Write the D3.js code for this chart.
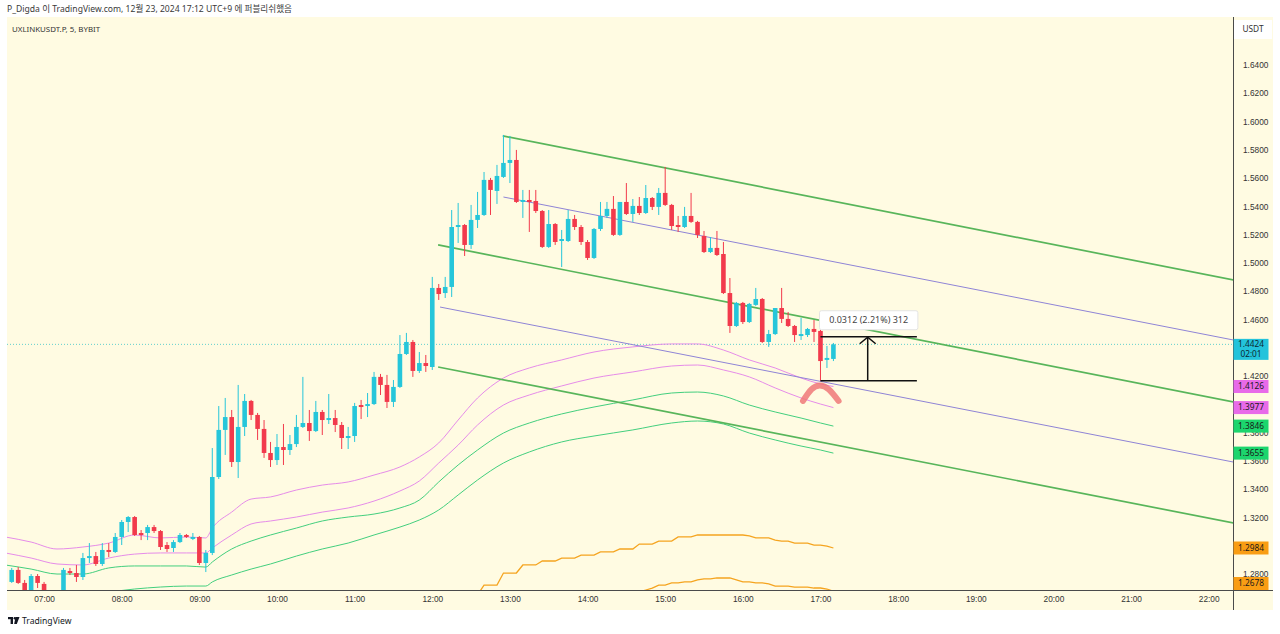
<!DOCTYPE html>
<html><head><meta charset="utf-8">
<script src="https://cdn.jsdelivr.net/npm/d3@7"></script>
<style>
html,body{margin:0;padding:0;background:#fff;}
svg{display:block;font-family:"Noto Sans","Noto Sans CJK KR",sans-serif;}
</style></head><body>
<svg id="chart" width="1280" height="634"></svg>
<script>
// ---------------- DATA ----------------
const headerText = "P_Digda 이 TradingView.com, 12월 23, 2024 17:12 UTC+9 에 퍼블리쉬했음";
const symbolText = "UXLINKUSDT.P, 5, BYBIT";
const currencyText = "USDT";
const firstBarTime = "06:35";
const barMinutes = 5;

const openP = [1.2744,1.2829,1.2737,1.2673,1.2786,1.2730,1.2666,1.2637,1.2652,1.2821,
1.2807,1.2779,1.2913,1.2927,1.2871,1.2970,1.2956,1.3062,1.3168,1.3203,
1.3090,1.3090,1.3132,1.3104,1.3005,1.2984,1.3026,1.3076,1.3048,1.3062,
1.2878,1.2949,1.3486,1.3819,1.3910,1.3592,1.3840,1.4024,1.3925,1.3826,
1.3656,1.3606,1.3698,1.3677,1.3719,1.3840,1.3868,1.3811,1.3946,1.3889,
1.3903,1.3854,1.3762,1.3776,1.3995,1.3988,1.4002,1.4194,1.4137,1.4017,
1.4123,1.4356,1.4441,1.4236,1.4292,1.4264,1.4823,1.4787,1.4830,1.5254,
1.5268,1.5127,1.5304,1.5339,1.5587,1.5509,1.5608,1.5707,1.5728,1.5431,
1.5445,1.5438,1.5367,1.5113,1.5275,1.5155,1.5155,1.5311,1.5254,1.5148,
1.5035,1.5240,1.5332,1.5382,1.5198,1.5431,1.5346,1.5403,1.5353,1.5459,
1.5396,1.5495,1.5410,1.5268,1.5254,1.5332,1.5290,1.5191,1.5077,1.5106,
1.5063,1.4787,1.4554,1.4717,1.4582,1.4703,1.4745,1.4441,1.4497,1.4681,
1.4604,1.4554,1.4483,1.4490,1.4533,1.4519,1.4314,1.4321];
const highP = [1.2843,1.2850,1.2758,1.2800,1.2800,1.2744,1.2673,1.2666,1.2843,1.2843,
1.2864,1.2949,1.3019,1.2956,1.3019,1.3019,1.3090,1.3182,1.3210,1.3210,
1.3111,1.3147,1.3147,1.3111,1.3026,1.3040,1.3090,1.3083,1.3090,1.3069,
1.2970,1.3691,1.3988,1.4045,1.3960,1.4137,1.4073,1.4031,1.3939,1.3889,
1.3734,1.3790,1.3861,1.3783,1.3925,1.4194,1.3960,1.4024,1.3960,1.4073,
1.3960,1.3875,1.3840,1.4010,1.4031,1.4080,1.4229,1.4215,1.4208,1.4172,
1.4490,1.4505,1.4455,1.4370,1.4349,1.4901,1.4851,1.4901,1.5374,1.5424,
1.5275,1.5410,1.5502,1.5643,1.5601,1.5693,1.5905,1.5898,1.5799,1.5516,
1.5516,1.5516,1.5374,1.5374,1.5282,1.5233,1.5374,1.5339,1.5268,1.5162,
1.5247,1.5431,1.5431,1.5473,1.5431,1.5565,1.5452,1.5466,1.5551,1.5466,
1.5530,1.5679,1.5417,1.5332,1.5396,1.5495,1.5297,1.5226,1.5183,1.5226,
1.5148,1.4893,1.4724,1.4724,1.4717,1.4823,1.4752,1.4526,1.4681,1.4823,
1.4653,1.4561,1.4611,1.4540,1.4596,1.4526,1.4413,1.4434];
const lowP = [1.2737,1.2730,1.2652,1.2652,1.2701,1.2652,1.2616,1.2616,1.2637,1.2793,
1.2744,1.2758,1.2878,1.2857,1.2857,1.2920,1.2949,1.3005,1.3097,1.3069,
1.3040,1.3040,1.3090,1.2970,1.2956,1.2956,1.3019,1.3055,1.3040,1.2864,
1.2814,1.2934,1.3472,1.3642,1.3557,1.3479,1.3776,1.3889,1.3748,1.3621,
1.3557,1.3571,1.3571,1.3642,1.3698,1.3833,1.3741,1.3804,1.3783,1.3861,
1.3804,1.3684,1.3684,1.3734,1.3896,1.3910,1.3995,1.4066,1.3974,1.3981,
1.4116,1.4349,1.4194,1.4222,1.4229,1.4243,1.4738,1.4752,1.4759,1.5141,
1.5049,1.5099,1.5247,1.5332,1.5339,1.5417,1.5601,1.5565,1.5424,1.5318,
1.5219,1.5353,1.5106,1.5106,1.5127,1.4971,1.5148,1.5233,1.5127,1.5021,
1.5028,1.5226,1.5318,1.5191,1.5191,1.5339,1.5290,1.5339,1.5346,1.5374,
1.5339,1.5403,1.5233,1.5219,1.5247,1.5283,1.5176,1.5070,1.5070,1.5049,
1.4780,1.4505,1.4547,1.4568,1.4575,1.4696,1.4434,1.4406,1.4490,1.4575,
1.4547,1.4441,1.4455,1.4476,1.4441,1.4166,1.4257,1.4306];
const closeP = [1.2829,1.2737,1.2673,1.2786,1.2737,1.2666,1.2630,1.2652,1.2829,1.2807,
1.2779,1.2913,1.2927,1.2871,1.2970,1.2956,1.3062,1.3168,1.3203,1.3076,
1.3076,1.3132,1.3104,1.2991,1.2977,1.3026,1.3076,1.3062,1.3062,1.2878,
1.2949,1.3486,1.3819,1.3910,1.3592,1.3840,1.4024,1.3925,1.3826,1.3656,
1.3606,1.3698,1.3677,1.3719,1.3840,1.3868,1.3811,1.3946,1.3889,1.3903,
1.3854,1.3762,1.3776,1.3988,1.3981,1.4002,1.4194,1.4137,1.4017,1.4123,
1.4356,1.4441,1.4236,1.4292,1.4271,1.4823,1.4780,1.4830,1.5254,1.5268,
1.5127,1.5304,1.5339,1.5587,1.5516,1.5615,1.5707,1.5728,1.5431,1.5445,
1.5431,1.5367,1.5113,1.5275,1.5148,1.5169,1.5311,1.5254,1.5148,1.5035,
1.5240,1.5332,1.5382,1.5198,1.5431,1.5346,1.5403,1.5353,1.5459,1.5396,
1.5495,1.5410,1.5261,1.5254,1.5332,1.5290,1.5198,1.5077,1.5106,1.5056,
1.4787,1.4554,1.4717,1.4582,1.4710,1.4745,1.4441,1.4497,1.4681,1.4604,
1.4554,1.4490,1.4497,1.4533,1.4512,1.4306,1.4328,1.4424];

const priceTicks = [1.28,1.30,1.32,1.34,1.36,1.38,1.40,1.42,1.44,1.46,1.48,1.50,1.52,1.54,1.56,1.58,1.60,1.62,1.64];
const timeTicks = ["07:00","08:00","09:00","10:00","11:00","12:00","13:00","14:00","15:00","16:00","17:00","18:00","19:00","20:00","21:00","22:00"];
const lastPrice = 1.4424;
const barCountdown = "02:01";

// indicator bands (bar index, price)
const bandBars = [-1,3,7,11,15,19,23,27,30,31,34,37,40,44,48,52,56,60,63,66,69,72,76,80,85,90,96,102,106,110,114,118,122,125,127];
const pinkUpper = [1.3062,1.3026,1.2977,1.2991,1.3019,1.3076,1.3055,1.3062,1.3055,1.3125,1.3238,1.3330,1.3345,1.3394,1.3429,1.3451,1.3500,1.3557,1.3628,1.3727,1.3889,1.4045,1.4186,1.4257,1.4314,1.4370,1.4406,1.4427,1.4427,1.4384,1.4314,1.4257,1.4186,1.4144,1.4126];
const pinkLower = [1.2949,1.2913,1.2871,1.2864,1.2913,1.2941,1.2949,1.2949,1.2949,1.2984,1.3076,1.3154,1.3175,1.3203,1.3238,1.3267,1.3316,1.3387,1.3458,1.3585,1.3712,1.3854,1.3995,1.4066,1.4130,1.4186,1.4229,1.4271,1.4278,1.4243,1.4194,1.4116,1.4045,1.4002,1.3977];
const greenUpper = [1.2864,1.2835,1.2800,1.2800,1.2843,1.2857,1.2857,1.2857,1.2849,1.2885,1.2977,1.3033,1.3076,1.3125,1.3175,1.3203,1.3224,1.3267,1.3323,1.3451,1.3571,1.3677,1.3797,1.3868,1.3932,1.3981,1.4031,1.4080,1.4087,1.4059,1.3995,1.3946,1.3903,1.3868,1.3846];
const greenLower = [1.2616,1.2630,1.2644,1.2659,1.2673,1.2694,1.2708,1.2715,1.2715,1.2744,1.2793,1.2835,1.2871,1.2927,1.2977,1.3019,1.3076,1.3132,1.3182,1.3253,1.3359,1.3465,1.3585,1.3663,1.3734,1.3776,1.3819,1.3868,1.3882,1.3861,1.3797,1.3748,1.3705,1.3677,1.3655];
const orangeUpperStart = 72;
const orangeUpper = [1.2652,1.2722,1.2722,1.2722,1.2807,1.2807,1.2807,1.2864,1.2864,1.2864,1.2892,1.2892,1.2892,1.2913,1.2913,1.2913,1.2934,1.2934,1.2934,1.2956,1.2956,1.2956,1.2977,1.2977,1.2977,1.3012,1.3012,1.3012,1.3033,1.3033,1.3033,1.3062,1.3062,1.3062,1.3076,1.3076,1.3076,1.3076,1.3076,1.3076,1.3076,1.3076,1.3069,1.3055,1.3055,1.3055,1.3040,1.3033,1.3033,1.3019,1.3019,1.3019,1.3005,1.3005,1.2998,1.2984];
const orangeLowerStart = 96;
const orangeLower = [1.2652,1.2673,1.2687,1.2701,1.2722,1.2722,1.2737,1.2737,1.2744,1.2744,1.2758,1.2765,1.2765,1.2772,1.2772,1.2772,1.2758,1.2744,1.2744,1.2737,1.2737,1.2730,1.2715,1.2715,1.2715,1.2708,1.2708,1.2708,1.2701,1.2701,1.2694,1.2678];

// drawn trend channel lines: start bar/price -> end bar/price
const channelKind = ["green","green","green","purple","purple"];
const channelStartBar = [75.9, 65.9, 65.9, 76.0, 66.2];
const channelStartPrice = [1.5898, 1.5127, 1.4264, 1.5466, 1.4688];
const channelEndBar = [188.8, 188.8, 188.8, 188.8, 188.8];
const channelEndPrice = [1.4879, 1.4017, 1.3161, 1.4455, 1.3592];

// price range measurement
const measureFromBar = 125, measureToBar = 139.9, measureArrowBar = 132.3;
const measureLow = 1.4166, measureHigh = 1.4478;
const measureText = "0.0312 (2.21%) 312";

// hand-drawn highlight arc
const arcBars = [122.3, 123.6, 124.9, 126.3, 127.8];
const arcPrices = [1.4024, 1.4105, 1.4133, 1.4105, 1.4024];

// right-axis value tags
const tagPrices = [1.4424, 1.4126, 1.3977, 1.3846, 1.3655, 1.2984, 1.2678];
const tagKind = ["last","pink","pink","green","green","orange","orange"];

// ---------------- DRAW ----------------
const W = 1280, H = 634;
const L = 7, R = 1233, T = 17, B = 590, PR = 1273, PB = 610;
const svg = d3.select("#chart");
const C = {bg:"#fffbe2", up:"#26c6da", down:"#f23a4c", pink:"#e68ce9", gline:"#43cf7e",
  orange:"#f5a41f", chanG:"#58b55a", chanP:"#8f84d6", axis:"#4a4a4a", text:"#333"};
const tagFill = {last:"#23c3db", pink:"#e86ae9", green:"#1cd56d", orange:"#f99d14"};
const AXF = "8.3px";

svg.append("rect").attr("width",W).attr("height",H).attr("fill","#fff");
svg.append("rect").attr("x",L).attr("y",T).attr("width",PR-L).attr("height",PB-T).attr("fill",C.bg);

const viewFirstBar = -0.73, viewLastBar = 188.76;
const x = d3.scaleLinear().domain([viewFirstBar, viewLastBar]).range([L, R]);
const y = d3.scaleLinear().domain([1.2687, 1.6739]).range([B, T]);

const defs = svg.append("defs");
defs.append("clipPath").attr("id","plot").append("rect").attr("x",L).attr("y",T).attr("width",R-L).attr("height",B-T);
const plot = svg.append("g").attr("clip-path","url(#plot)");

const toMin = s => { const [h,m] = s.split(":").map(Number); return h*60+m; };
const barOf = s => (toMin(s) - toMin(firstBarTime)) / barMinutes;

// price line (dotted)
plot.append("line").attr("x1",L).attr("x2",R).attr("y1",y(lastPrice)).attr("y2",y(lastPrice))
  .attr("stroke","#3cc7c9").attr("stroke-width",1).attr("stroke-dasharray","1,2").attr("opacity",0.8);

// indicator lines
const lineGen = d3.line().x(d=>x(d[0])).y(d=>y(d[1]));
const bandPts = arr => bandBars.map((b,i)=>[b, arr[i]]);
[[pinkUpper,C.pink],[pinkLower,C.pink],[greenUpper,C.gline],[greenLower,C.gline]].forEach(([arr,col])=>{
  plot.append("path").attr("d",lineGen.curve(d3.curveMonotoneX)(bandPts(arr)))
    .attr("fill","none").attr("stroke",col).attr("stroke-width",1);
});
lineGen.curve(d3.curveLinear);
[[orangeUpper,orangeUpperStart],[orangeLower,orangeLowerStart]].forEach(([arr,s])=>{
  plot.append("path").attr("d",lineGen(arr.map((p,i)=>[s+i,p])))
    .attr("fill","none").attr("stroke",C.orange).attr("stroke-width",1.3);
});

// channel lines
channelKind.forEach((k,i)=>{
  plot.append("line")
    .attr("x1",x(channelStartBar[i])).attr("y1",y(channelStartPrice[i]))
    .attr("x2",x(channelEndBar[i])).attr("y2",y(channelEndPrice[i]))
    .attr("stroke", k==="green"?C.chanG:C.chanP)
    .attr("stroke-width", k==="green"?1.7:1);
});

// candles
const bw = 4.6;
const cg = plot.append("g");
openP.forEach((o,i)=>{
  const c = closeP[i], up = c >= o, col = up?C.up:C.down;
  const cx = x(i);
  cg.append("line").attr("x1",cx).attr("x2",cx).attr("y1",y(highP[i])).attr("y2",y(lowP[i]))
    .attr("stroke",col).attr("stroke-width",1);
  const yt = y(Math.max(o,c)), yb = y(Math.min(o,c));
  cg.append("rect").attr("x",cx-bw/2).attr("y",yt).attr("width",bw).attr("height",Math.max(1,yb-yt)).attr("fill",col);
});

// highlight arc
plot.append("path").attr("d", d3.line().x(d=>x(d[0])).y(d=>y(d[1])).curve(d3.curveNatural)(arcBars.map((b,i)=>[b,arcPrices[i]])))
  .attr("fill","none").attr("stroke","#f07878").attr("stroke-opacity",0.85).attr("stroke-width",6).attr("stroke-linecap","round");

// measurement tool
const mg = plot.append("g");
[measureLow, measureHigh].forEach(p=>{
  mg.append("line").attr("x1",x(measureFromBar)).attr("x2",x(measureToBar)).attr("y1",y(p)).attr("y2",y(p))
    .attr("stroke","#111").attr("stroke-width",1.5);
});
const ax = x(measureArrowBar);
mg.append("line").attr("x1",ax).attr("x2",ax).attr("y1",y(measureLow)).attr("y2",y(measureHigh)+1)
  .attr("stroke","#111").attr("stroke-width",1.5);
mg.append("path").attr("d",`M${ax-8},${y(measureHigh)+7}L${ax},${y(measureHigh)+0.5}L${ax+8},${y(measureHigh)+7}`)
  .attr("fill","none").attr("stroke","#111").attr("stroke-width",1.5);
const lbx = x(measureFromBar)-1, lbw = x(measureToBar)-x(measureFromBar)+2;
mg.append("rect").attr("x",lbx).attr("y",y(measureHigh)-26).attr("width",lbw).attr("height",19).attr("rx",2)
  .attr("fill","#fff").attr("stroke","#e4e4e4");
mg.append("text").attr("x",lbx+lbw/2).attr("y",y(measureHigh)-16.5).attr("dy","0.35em")
  .attr("text-anchor","middle").attr("font-size","9px").attr("fill","#444").text(measureText);

// axis lines
svg.append("line").attr("x1",R+0.5).attr("x2",R+0.5).attr("y1",T).attr("y2",PB).attr("stroke",C.axis);
svg.append("line").attr("x1",L).attr("x2",PR).attr("y1",B+0.5).attr("y2",B+0.5).attr("stroke",C.axis);

// y axis: labels hidden behind value tags are not drawn
const tagY = tagPrices.map(p=>Math.min(y(p), B-6.5));
const visibleTicks = priceTicks.filter(p => !tagY.some(ty => Math.abs(ty - y(p)) < 5));
const yAxis = svg.append("g").attr("transform",`translate(${R},0)`)
  .call(d3.axisRight(y).tickValues(visibleTicks).tickFormat(d3.format(".4f")).tickSize(0).tickPadding(10));
yAxis.select(".domain").remove();
yAxis.selectAll("text").attr("font-size",AXF).attr("fill",C.text).attr("font-family",null);

// x axis
const xAxis = svg.append("g").attr("transform",`translate(0,${B})`)
  .call(d3.axisBottom(x).tickValues(timeTicks.map(barOf)).tickFormat((d,i)=>timeTicks[i]).tickSize(0).tickPadding(6));
xAxis.select(".domain").remove();
xAxis.selectAll("text").attr("font-size",AXF).attr("fill",C.text).attr("font-family",null);

// value tags
tagPrices.forEach((p,i)=>{
  const k = tagKind[i];
  const g = svg.append("g");
  if (k==="last") {
    const yy = y(p);
    g.append("rect").attr("x",R+0.5).attr("y",yy-5.5).attr("width",35).attr("height",21).attr("fill",tagFill[k]);
    g.append("text").attr("x",R+18).attr("y",yy).attr("dy","0.35em").attr("text-anchor","middle")
      .attr("font-size",AXF).attr("fill","#0b2b33").text(d3.format(".4f")(p));
    g.append("text").attr("x",R+18).attr("y",yy+9.5).attr("dy","0.35em").attr("text-anchor","middle")
      .attr("font-size",AXF).attr("fill","#0b2b33").text(barCountdown);
  } else {
    const yy = tagY[i];
    g.append("rect").attr("x",R+0.5).attr("y",yy-6.5).attr("width",35).attr("height",13).attr("fill",tagFill[k]);
    g.append("text").attr("x",R+18).attr("y",yy).attr("dy","0.35em").attr("text-anchor","middle")
      .attr("font-size",AXF).attr("fill","#1a1a1a").text(d3.format(".4f")(p));
  }
});

// currency box
svg.append("rect").attr("x",R+1).attr("y",20).attr("width",38).attr("height",19).attr("fill","#fff");
svg.append("text").attr("x",R+20).attr("y",29.5).attr("dy","0.35em").attr("text-anchor","middle")
  .attr("font-size",AXF).attr("fill",C.text).text(currencyText);

// header & symbol
svg.append("text").attr("x",7).attr("y",9).attr("dy","0.35em").attr("font-size","8.6px").attr("fill","#3a3a3a").text(headerText);
svg.append("text").attr("x",12).attr("y",29).attr("dy","0.35em").attr("font-size","7.9px").attr("fill",C.text).text(symbolText);

// TradingView footer logo
const lg = svg.append("g").attr("fill","#131722");
lg.append("rect").attr("x",8).attr("y",617).attr("width",5).attr("height",2.2);
lg.append("rect").attr("x",10.6).attr("y",617).attr("width",2.4).attr("height",7);
lg.append("circle").attr("cx",14.8).attr("cy",618.2).attr("r",1.2);
lg.append("path").attr("d","M15.5,617 L19.5,617 L16.8,624 L14.2,624 Z");
svg.append("text").attr("x",22).attr("y",621).attr("dy","0.35em").attr("font-size","8.6px").attr("fill","#131722").text("TradingView");
</script>
</body></html>
